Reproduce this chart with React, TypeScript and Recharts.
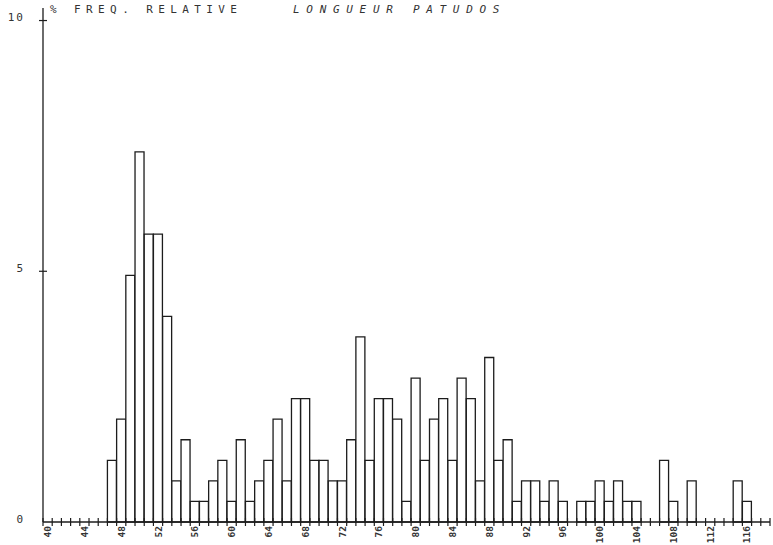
import React from 'react';
import { BarChart, Bar, XAxis, YAxis } from 'recharts';

// length classes (cm) on the x axis
const lengths = [
  40, 41, 42, 43, 44, 45, 46, 47, 48, 49, 50, 51, 52, 53, 54, 55, 56, 57, 58, 59,
  60, 61, 62, 63, 64, 65, 66, 67, 68, 69, 70, 71, 72, 73, 74, 75, 76, 77, 78, 79,
  80, 81, 82, 83, 84, 85, 86, 87, 88, 89, 90, 91, 92, 93, 94, 95, 96, 97, 98, 99,
  100, 101, 102, 103, 104, 105, 106, 107, 108, 109, 110, 111, 112, 113, 114, 115, 116, 117, 118,
];

// relative frequency (%) per length class
const freq = [
  0, 0, 0, 0, 0, 0, 0, 1.23, 2.05, 4.92, 7.38, 5.74, 5.74, 4.1, 0.82, 1.64, 0.41, 0.41, 0.82, 1.23,
  0.41, 1.64, 0.41, 0.82, 1.23, 2.05, 0.82, 2.46, 2.46, 1.23, 1.23, 0.82, 0.82, 1.64, 3.69, 1.23, 2.46, 2.46, 2.05, 0.41,
  2.87, 1.23, 2.05, 2.46, 1.23, 2.87, 2.46, 0.82, 3.28, 1.23, 1.64, 0.41, 0.82, 0.82, 0.41, 0.82, 0.41, 0, 0.41, 0.41,
  0.82, 0.41, 0.82, 0.41, 0.41, 0, 0, 1.23, 0.41, 0, 0.82, 0, 0, 0, 0, 0.82, 0.41, 0, 0,
];

const xLabels = [40, 44, 48, 52, 56, 60, 64, 68, 72, 76, 80, 84, 88, 92, 96, 100, 104, 108, 112, 116];
const yTicks = [0, 5, 10];
const yTop = 10.25;

const yTitle = '% FREQ. RELATIVE';
const title = 'LONGUEUR PATUDOS';

const data = lengths.map((len, i) => ({ len, freq: freq[i] }));

const W = 773;
const H = 545;
const PLOT_LEFT = 43;
const PLOT_RIGHT = 770;
const BAND = (PLOT_RIGHT - PLOT_LEFT) / lengths.length;
const INK = '#1c1c1c';
const FONT = '"DejaVu Sans Mono", "Liberation Mono", monospace';

function XTick(props: any) {
  const { x, y, payload, index } = props;
  const half = BAND / 2;
  const last = index === lengths.length - 1;
  return (
    <g>
      <line x1={x - half} x2={x - half} y1={y - 4} y2={y + 4} stroke={INK} strokeWidth={1.2} />
      {last && <line x1={x + half} x2={x + half} y1={y - 4} y2={y + 4} stroke={INK} strokeWidth={1.2} />}
      {xLabels.includes(payload.value) && (
        <text
          transform={`translate(${x + 3.5},${y + 4}) rotate(-90)`}
          textAnchor="end"
          fontFamily={FONT}
          fontSize={9.5}
          fontWeight="bold"
          fill="#333"
        >
          {payload.value}
        </text>
      )}
    </g>
  );
}

function YTick(props: any) {
  const { x, y, payload } = props;
  return (
    <g>
      {payload.value !== 0 && <line x1={x - 4} x2={x + 4} y1={y} y2={y} stroke={INK} strokeWidth={1.2} />}
      <text
        x={25}
        y={y - 3}
        textAnchor="end"
        dominantBaseline="central"
        fontFamily={FONT}
        fontSize={11}
        letterSpacing={2}
        fill="#333"
      >
        {payload.value}
      </text>
    </g>
  );
}

export default function App() {
  return (
    <div style={{ position: 'absolute', left: 0, top: 0, width: W, height: H, background: '#fff' }}>
      <BarChart
        width={W}
        height={H}
        data={data}
        margin={{ top: 8, right: W - PLOT_RIGHT, bottom: 0, left: 0 }}
        barCategoryGap={0}
        barGap={0}
      >
        <XAxis
          dataKey="len"
          type="category"
          interval={0}
          height={23}
          axisLine={{ stroke: INK, strokeWidth: 1.3 }}
          tickLine={false}
          tickSize={0}
          tickMargin={0}
          tick={<XTick />}
        />
        <YAxis
          type="number"
          domain={[0, yTop]}
          ticks={yTicks}
          width={PLOT_LEFT}
          axisLine={{ stroke: INK, strokeWidth: 1.3 }}
          tickLine={false}
          tickSize={0}
          tickMargin={0}
          tick={<YTick />}
        />
        <Bar dataKey="freq" fill="#fff" stroke={INK} strokeWidth={1.3} isAnimationActive={false} />
      </BarChart>
      <svg width={W} height={H} style={{ position: 'absolute', left: 0, top: 0, pointerEvents: 'none' }}>
        <text x={50} y={12.5} fontFamily={FONT} fontSize={11} letterSpacing={5.4} fill="#333">
          {yTitle}
        </text>
        <text x={293} y={12.5} fontFamily={FONT} fontSize={11} fontStyle="italic" letterSpacing={6.7} fill="#333">
          {title}
        </text>
      </svg>
    </div>
  );
}
